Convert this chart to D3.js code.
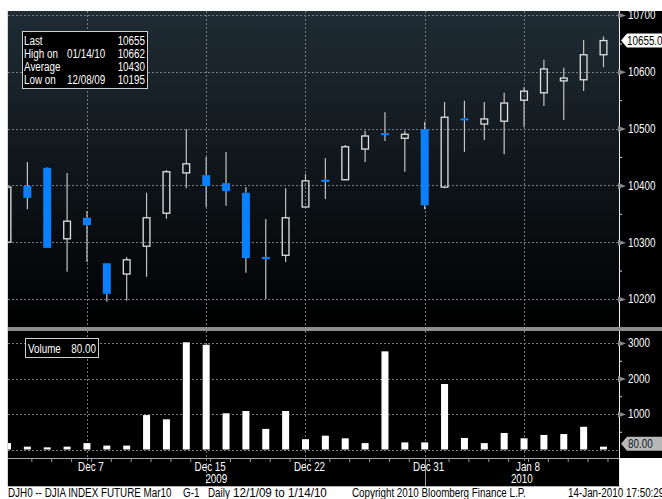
<!DOCTYPE html>
<html>
<head>
<meta charset="utf-8">
<script src="https://cdn.jsdelivr.net/npm/d3@7"></script>
<style>
body { margin: 0; background: #fff; }
text { font-family: "Liberation Sans", Arial, sans-serif; }
</style>
</head>
<body>
<div id="chart"></div>
<script>
// trading days 12/1/09 .. 1/14/10
var dates = ["12/01/09","12/02/09","12/03/09","12/04/09","12/07/09","12/08/09","12/09/09","12/10/09","12/11/09",
  "12/14/09","12/15/09","12/16/09","12/17/09","12/18/09","12/21/09","12/22/09","12/23/09","12/24/09",
  "12/28/09","12/29/09","12/30/09","12/31/09","01/04/10","01/05/10","01/06/10","01/07/10","01/08/10",
  "01/11/10","01/12/10","01/13/10","01/14/10"];
var opens  = [10300,10399,10431,10306,10343,10263,10244,10293,10351,10422,10418,10404,10387,10274,10277,10362,
  10410,10410,10464,10492,10483,10499,10397,10518,10508,10513,10550,10563,10584,10586,10630];
var highs  = [10400,10441,10432,10422,10355,10263,10274,10387,10427,10499,10450,10459,10397,10341,10395,10420,
  10448,10471,10496,10529,10496,10512,10547,10549,10547,10563,10573,10621,10607,10656,10662];
var lows   = [10298,10358,10290,10248,10265,10195,10197,10239,10341,10395,10362,10364,10246,10200,10265,10362,
  10376,10409,10441,10478,10424,10358,10395,10459,10480,10455,10503,10540,10515,10566,10608];
var closes = [10397,10378,10290,10337,10330,10209,10269,10343,10424,10438,10399,10390,10272,10270,10343,10408,
  10406,10468,10487,10489,10490,10365,10520,10517,10517,10545,10566,10605,10589,10630,10655];
var volumes = [180,80,60,80,180,110,110,970,850,3020,2950,1020,1085,580,1085,290,390,315,180,2765,200,200,
  1845,325,180,465,315,410,435,640,80];

var priceTicks = [10200,10300,10400,10500,10600,10700];
var priceMinor = [10250,10350,10450,10550,10650];
var volTicks = [1000,2000,3000];
var volMinor = [500,1500,2500];
var labelDates = ["12/07/09","12/15/09","12/22/09","12/31/09","01/08/10"];
var labelTexts = ["Dec 7","Dec 15","Dec 22","Dec 31","Jan 8"];
var yearTexts = ["2009","2010"];
var legendNames = ["Last","High on","Average","Low on"];
var legendDates = ["","01/14/10","","12/08/09"];
var legendValues = ["10655","10662","10430","10195"];
var lastPrice = 10655, lastVolume = 80;
var footerParts = ["DJH0 -- DJIA INDEX FUTURE Mar10","G-1","Daily","12/1/09 to 1/14/10",
  "Copyright 2010 Bloomberg Finance L.P.","14-Jan-2010 17:50:29"];

var W = 662, H = 499;
var plotL = 8, plotR = 619;
var priceTop = 11, priceBot = 327, volTop = 331, volBot = 458, axisBot = 486;

var svg = d3.select("#chart").append("svg")
  .attr("width", W).attr("height", H);

var defs = svg.append("defs");
var grad = defs.append("linearGradient").attr("id", "bg")
  .attr("x1", 0).attr("y1", 0).attr("x2", 0).attr("y2", 1);
grad.append("stop").attr("offset", "0%").attr("stop-color", "#1f2c35");
grad.append("stop").attr("offset", "100%").attr("stop-color", "#000");
defs.append("clipPath").attr("id", "clip").append("rect")
  .attr("x", plotL).attr("y", priceTop).attr("width", plotR - plotL).attr("height", volBot - priceTop);

// panels
svg.append("rect").attr("x", plotL).attr("y", priceTop).attr("width", W - plotL).attr("height", axisBot - priceTop).attr("fill", "#000");
svg.append("rect").attr("x", plotL).attr("y", priceTop).attr("width", plotR - plotL).attr("height", priceBot - priceTop).attr("fill", "url(#bg)");
svg.append("rect").attr("x", plotR).attr("y", volBot).attr("width", W - plotR).attr("height", axisBot - volBot + 1).attr("fill", "#fff");

// scales
var x = d3.scaleBand().domain(dates).range([-2.435, 613.435]).paddingInner(0.6).paddingOuter(0.3);
var cx = function(d) { return x(d) + x.bandwidth() / 2; };
var y = d3.scaleLinear().domain([10200, 10700]).range([299, 15]);
var yv = d3.scaleLinear().domain([0, 3000]).range([449.5, 343]);

var grid = svg.append("g").attr("stroke", "#767b80").attr("stroke-dasharray", "2,2").attr("stroke-width", 1);
priceTicks.forEach(function(t) {
  grid.append("line").attr("x1", plotL).attr("x2", plotR).attr("y1", Math.round(y(t)) + 0.5).attr("y2", Math.round(y(t)) + 0.5);
});
volTicks.concat([0]).forEach(function(t) {
  grid.append("line").attr("x1", plotL).attr("x2", plotR).attr("y1", Math.round(yv(t)) + 0.5).attr("y2", Math.round(yv(t)) + 0.5);
});
labelDates.forEach(function(d) {
  var bottom = (d == "12/15/09") ? 484 : 466;
  grid.append("line").attr("x1", Math.round(cx(d)) + 0.5).attr("x2", Math.round(cx(d)) + 0.5)
    .attr("y1", priceTop).attr("y2", bottom);
});
// year separator
svg.append("line").attr("x1", Math.round(cx("12/31/09")) + 0.5).attr("x2", Math.round(cx("12/31/09")) + 0.5)
  .attr("y1", volBot).attr("y2", axisBot).attr("stroke", "#9a9a9a");

// candles
var data = dates.map(function(d, i) {
  return {date: d, o: opens[i], h: highs[i], l: lows[i], c: closes[i], v: volumes[i]};
});
var plot = svg.append("g").attr("clip-path", "url(#clip)");
var bw = x.bandwidth();
var candle = plot.selectAll(".candle").data(data).enter().append("g").attr("class", "candle");
candle.append("line")
  .attr("x1", function(d) { return cx(d.date); }).attr("x2", function(d) { return cx(d.date); })
  .attr("y1", function(d) { return y(d.h); }).attr("y2", function(d) { return y(Math.max(d.o, d.c)); })
  .attr("stroke", "#c4c4c4").attr("stroke-width", 1.2);
candle.append("line")
  .attr("x1", function(d) { return cx(d.date); }).attr("x2", function(d) { return cx(d.date); })
  .attr("y1", function(d) { return y(Math.min(d.o, d.c)); }).attr("y2", function(d) { return y(d.l); })
  .attr("stroke", "#c4c4c4").attr("stroke-width", 1.2);
candle.append("rect")
  .attr("x", function(d) { return cx(d.date) - bw / 2 + (d.c >= d.o ? 0.6 : 0); })
  .attr("y", function(d) { return y(Math.max(d.o, d.c)); })
  .attr("width", function(d) { return d.c >= d.o ? bw - 1.2 : bw; })
  .attr("height", function(d) { return Math.max(2, y(Math.min(d.o, d.c)) - y(Math.max(d.o, d.c))); })
  .attr("fill", function(d) { return d.c >= d.o ? "none" : "#0a80ff"; })
  .attr("stroke", function(d) { return d.c >= d.o ? "#e0e0e0" : "none"; })
  .attr("stroke-width", 1.3);

// volume bars
plot.selectAll(".vol").data(data).enter().append("rect").attr("class", "vol")
  .attr("x", function(d) { return cx(d.date) - 3.5; })
  .attr("width", 7)
  .attr("y", function(d) { return yv(d.v); })
  .attr("height", function(d) { return yv(0) - yv(d.v); })
  .attr("fill", "#fff");

// separator between panels
svg.append("rect").attr("x", plotL).attr("y", priceBot).attr("width", W - plotL).attr("height", 4).attr("fill", "#8c8c8c");

// frame lines
svg.append("line").attr("x1", plotR + 0.5).attr("x2", plotR + 0.5).attr("y1", priceTop).attr("y2", priceBot).attr("stroke", "#f0f0f0");
svg.append("line").attr("x1", plotR + 0.5).attr("x2", plotR + 0.5).attr("y1", volTop).attr("y2", axisBot).attr("stroke", "#f0f0f0");
svg.append("line").attr("x1", plotL).attr("x2", plotR).attr("y1", volBot + 0.5).attr("y2", volBot + 0.5).attr("stroke", "#a8a8a8");
svg.append("line").attr("x1", plotL).attr("x2", plotR + 1).attr("y1", axisBot + 0.5).attr("y2", axisBot + 0.5).attr("stroke", "#b0b0b0");
svg.append("line").attr("x1", plotL - 0.5).attr("x2", plotL - 0.5).attr("y1", priceTop).attr("y2", axisBot).attr("stroke", "#d8d8d8");

// right axes
function rightAxis(scale, ticks, minor) {
  var g = svg.append("g").attr("transform", "translate(" + plotR + ",0)");
  g.call(d3.axisRight(scale).tickValues(ticks).tickSize(0).tickPadding(9).tickFormat(d3.format("d")));
  g.select(".domain").remove();
  g.selectAll(".tick text").attr("fill", "#fff").style("font-size", "12px");
  g.selectAll(".tick").append("path").attr("d", "M-1,-3L7,0L-1,3Z").attr("fill", "#8a8a8a");
  var m = svg.append("g").attr("transform", "translate(" + plotR + ",0)");
  m.call(d3.axisRight(scale).tickValues(minor).tickSize(3).tickFormat(""));
  m.select(".domain").remove();
  m.selectAll(".tick line").attr("stroke", "#ddd");
}
rightAxis(y, priceTicks, priceMinor);
rightAxis(yv, volTicks, volMinor);

// value flags
function flag(yy, txt, bg, fg, tx) {
  var g = svg.append("g").attr("transform", "translate(" + plotR + "," + yy + ")");
  g.append("path").attr("d", "M2,0L8,-7L44,-7L44,7L8,7Z").attr("fill", bg);
  g.append("text").attr("x", tx).attr("y", 4.5).attr("fill", fg).style("font-size", "12px").text(txt);
}
flag(y(lastPrice), d3.format(".2f")(lastPrice), "#fff", "#000", 8);
flag(yv(lastVolume) - 3, d3.format(".2f")(lastVolume), "#b8b8b8", "#0c1a2a", 9);

// bottom date axis
var xa = svg.append("g").attr("transform", "translate(0," + volBot + ")");
xa.call(d3.axisBottom(x).tickSize(4).tickFormat(""));
xa.select(".domain").remove();
xa.selectAll(".tick line").attr("stroke", "#9a9a9a").attr("transform", "translate(" + (bw / 2 + 0.5) + ",0)");
xa.selectAll(".tick").filter(function(d) { return d == dates[0]; }).remove();

var xl = svg.append("g").attr("transform", "translate(" + (bw / 2) + "," + volBot + ")");
xl.call(d3.axisBottom(x).tickValues(labelDates).tickSize(0).tickPadding(4)
  .tickFormat(function(d) { return labelTexts[labelDates.indexOf(d)]; }));
xl.select(".domain").remove();
xl.selectAll(".tick text").attr("fill", "#fff").style("font-size", "12px");

var sepX = cx("12/31/09");
var yearMid = [(plotL + sepX) / 2, (sepX + plotR) / 2];
svg.selectAll(".yr").data(yearTexts).enter().append("text").attr("class", "yr")
  .attr("x", function(d, i) { return yearMid[i]; }).attr("y", 483)
  .attr("text-anchor", "middle").attr("fill", "#fff").style("font-size", "12px")
  .text(function(d) { return d; });

// legend box
var lg = svg.append("g");
lg.append("rect").attr("x", 22.5).attr("y", 31.5).attr("width", 125).attr("height", 57)
  .attr("fill", "#000").attr("stroke", "#cfcfcf");
legendNames.forEach(function(t, i) {
  var ty = 45 + i * 13;
  lg.append("text").attr("x", 24).attr("y", ty).attr("fill", "#fff").style("font-size", "12px").text(t);
  if (legendDates[i]) lg.append("text").attr("x", 67).attr("y", ty).attr("fill", "#fff").style("font-size", "12px").text(legendDates[i]);
  lg.append("text").attr("x", 145).attr("y", ty).attr("fill", "#fff")
    .attr("text-anchor", "end").style("font-size", "12px").text(legendValues[i]);
});

var vg = svg.append("g");
vg.append("rect").attr("x", 25.5).attr("y", 338.5).attr("width", 73).attr("height", 19)
  .attr("fill", "#000").attr("stroke", "#cfcfcf");
vg.append("text").attr("x", 28).attr("y", 352.5).attr("fill", "#fff").style("font-size", "12px").text("Volume");
vg.append("text").attr("x", 96).attr("y", 352.5).attr("fill", "#fff").attr("text-anchor", "end")
  .style("font-size", "12px").text(d3.format(".2f")(lastVolume));

// footer
var footX = [8, 183, 208, 233, 352, 568];
svg.append("g").style("font-size", "12px").attr("fill", "#000")
  .selectAll("text").data(footerParts).enter().append("text")
  .attr("class", function(d, i) { return i == 3 ? "wide" : null; })
  .attr("x", function(d, i) { return footX[i]; }).attr("y", 497)
  .text(function(d) { return d; });

// Bloomberg uses a narrow face; squeeze glyphs horizontally
svg.selectAll("text").each(function() {
  var w = this.getComputedTextLength();
  var k = d3.select(this).classed("wide") ? 0.97 : 0.82;
  d3.select(this).attr("textLength", w * k).attr("lengthAdjust", "spacingAndGlyphs");
});
</script>
</body>
</html>
